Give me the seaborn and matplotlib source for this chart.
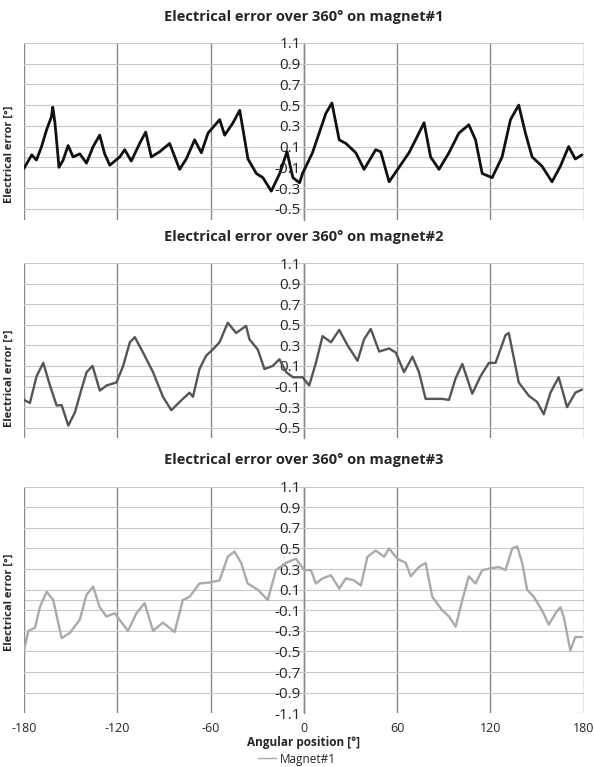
import numpy as np
import pandas as pd
import matplotlib
matplotlib.use('Agg')
import matplotlib.pyplot as plt
import seaborn as sns
from matplotlib.lines import Line2D

# --- datos (grados, error electrico) ---
ang_m1 = [-180, -175, -172, -168.7, -165.5, -162.3, -161.5, -160.1, -158.5, -157.5, -154.8, -151.6, -148.4,
          -144.1, -139.8, -135.5, -131.3, -128.1, -124.8, -118.4, -115.2, -111, -105.6, -101.7, -98.1,
          -92.7, -86.3, -79.9, -75.6, -70.2, -65.9, -61.6,
          -54.1, -50.9, -45.5, -41.2, -35.9, -30.5, -26.3, -20.9, -15.5, -10.8, -7, -2.7, -0.8, 5.6,
          9.9, 14.2, 18.1, 22.8, 27.1, 33.5, 38.8, 46.3, 49.5, 54.9, 61.3, 67.7, 73.1, 77.4, 81.6,
          87, 93.4, 99.8, 106.2, 110.5, 114.8, 121.2, 127.6, 133, 138.3, 142.6, 146.9, 153.3, 159.7,
          165.1, 170.4, 174.7, 179]
err_m1 = [-0.11, 0.02, -0.03, 0.10, 0.26, 0.39, 0.48, 0.33, 0.07, -0.10, -0.03, 0.11, 0.0,
          0.03, -0.06, 0.10, 0.21, 0.03, -0.08, 0.0, 0.07, -0.04, 0.13, 0.24, 0.0,
          0.05, 0.13, -0.12, -0.02, 0.165, 0.04, 0.23,
          0.36, 0.21, 0.33, 0.45, -0.02, -0.16, -0.20, -0.33, -0.16, 0.05, -0.20, -0.25, -0.16, 0.04,
          0.23, 0.42, 0.52, 0.165, 0.13, 0.04, -0.12, 0.07, 0.05, -0.24, -0.10, 0.04, 0.20, 0.33, 0.0,
          -0.12, 0.04, 0.23, 0.31, 0.165, -0.16, -0.20, 0.0, 0.36, 0.50, 0.23, 0.0, -0.09, -0.24,
          -0.09, 0.10, -0.02, 0.02]

ang_m2 = [-180, -176.2, -171.9, -167.6, -163.3, -159, -155.8, -151.5, -147.2, -142.9, -139.7, -135.9,
          -131.2, -126.9, -120.5, -116.2, -111.9, -108.7, -103.4, -97, -90.6, -85.2, -79.9, -73.5,
          -71.3, -67.1, -62.8, -58.5, -54.2, -48.9, -43.5, -37.1, -35, -29.6, -25.3, -20, -15.7, -11.3,
          -7, -0.8, 3.5, 7.8, 12.1, 17.5, 22.8, 28.2, 34.6, 38.8, 43.1, 48.5, 54.9, 59.2, 64.5, 69.9,
          74.1, 78.4, 84.8, 89.1, 93.4, 97.7, 102, 108.4, 113.7, 119.1, 123.4, 129.8, 131.9, 138.3,
          144.8, 150.1, 154.4, 158.7, 164, 169.4, 174.7, 179]
err_m2 = [-0.23, -0.26, 0.0, 0.13, -0.09, -0.285, -0.28, -0.48, -0.35, -0.12, 0.04, 0.10,
          -0.14, -0.09, -0.06, 0.10, 0.33, 0.38, 0.23, 0.04, -0.20, -0.33, -0.25, -0.16,
          -0.20, 0.07, 0.20, 0.26, 0.33, 0.52, 0.42, 0.49, 0.36, 0.26, 0.07, 0.10, 0.165, 0.04,
          -0.01, -0.01, -0.09, 0.13, 0.39, 0.33, 0.45, 0.30, 0.15, 0.36, 0.46, 0.24, 0.27, 0.23, 0.04, 0.19,
          0.04, -0.22, -0.22, -0.22, -0.23, -0.02, 0.12, -0.17, 0.0, 0.13, 0.13, 0.40, 0.42, -0.06,
          -0.19, -0.25, -0.37, -0.16, -0.01, -0.30, -0.16, -0.13]

ang_m3 = [-180, -177.2, -172.9, -169.7, -165.4, -161.2, -155.8, -150.5, -144.1, -139.8, -135.5, -131.3,
          -127, -121.6, -113.1, -107.7, -102.4, -97, -90.6, -83.1, -77.8, -73.5, -67.1, -60.7, -54.2,
          -48.9, -44.6, -40.3, -36.1, -29.6, -23.2, -17.9, -11.5, -5, 0.3, 4.6, 7.8, 12.1, 17.5, 22.8,
          27.1, 32.4, 36.7, 41, 46.3, 51.7, 54.9, 60.2, 65.6, 68.8, 74.1, 78.4, 82.7, 89.1, 93.4, 97.7,
          102, 106.2, 110.5, 114.8, 121.2, 125.5, 129.8, 134.1, 137.3, 140.5, 143.7, 148, 153.3, 157.6,
          161.9, 165.1, 167.2, 171.5, 174.7, 179]
err_m3 = [-0.49, -0.30, -0.27, -0.065, 0.08, 0.0, -0.37, -0.32, -0.19, 0.05, 0.13, -0.07,
          -0.16, -0.13, -0.30, -0.13, -0.03, -0.30, -0.22, -0.31, 0.0, 0.03, 0.16, 0.17, 0.19,
          0.42, 0.47, 0.36, 0.16, 0.10, 0.0, 0.29, 0.36, 0.40, 0.29, 0.29, 0.16, 0.21, 0.24, 0.11,
          0.21, 0.19, 0.14, 0.42, 0.48, 0.42, 0.50, 0.40, 0.36, 0.23, 0.32, 0.36, 0.03, -0.10, -0.16, -0.26,
          0.0, 0.23, 0.16, 0.29, 0.31, 0.32, 0.29, 0.50, 0.52, 0.36, 0.10, 0.03, -0.10, -0.24,
          -0.13, -0.07, -0.16, -0.49, -0.36, -0.36]

x_ticks = [-180, -120, -60, 0, 60, 120, 180]
y_ticks_short = [1.1, 0.9, 0.7, 0.5, 0.3, 0.1, -0.1, -0.3, -0.5]
y_ticks_long = [1.1, 0.9, 0.7, 0.5, 0.3, 0.1, -0.1, -0.3, -0.5, -0.7, -0.9, -1.1]

sns.set_theme(style='white')
plt.rcParams['font.family'] = ['Open Sans', 'DejaVu Sans']

fig = plt.figure(figsize=(5.94, 7.67), dpi=100)

paneles = [
    (ang_m1, err_m1, '#111111', 2.0, 'Electrical error over 360° on magnet#1', y_ticks_short, (-0.61, 1.1),
     [0.0404, 0.713, 0.942, 0.231], 0.37),
    (ang_m2, err_m2, '#555555', 1.7, 'Electrical error over 360° on magnet#2', y_ticks_short, (-0.6, 1.1),
     [0.0404, 0.429, 0.942, 0.228], 0.34),
    (ang_m3, err_m3, '#aaaaaa', 1.7, 'Electrical error over 360° on magnet#3', y_ticks_long, (-1.1, 1.1),
     [0.0404, 0.070, 0.942, 0.2955], 0.49),
]

grid_h = '#cdc6c2'
grid_v = '#8e8682'

axes = []
for ang, err, color, lw, titulo, yt, ylim, pos, ylab_y in paneles:
    ax = fig.add_axes(pos)
    df = pd.DataFrame({'ang': ang, 'err': err})
    sns.lineplot(data=df, x='ang', y='err', color=color, lw=lw, ax=ax, sort=False)
    ax.set_xlim(-180, 180)
    ax.set_ylim(*ylim)
    ax.set_yticks(yt)
    ax.set_yticklabels([f'{v:.1f}' for v in yt], fontsize=9, color='#222222')
    ax.set_xticks(x_ticks)
    for s in ['top', 'right', 'bottom']:
        ax.spines[s].set_visible(False)
    # eje vertical en x=0 con etiquetas
    ax.spines['left'].set_position(('data', 0))
    ax.spines['left'].set_color(grid_v)
    ax.spines['left'].set_linewidth(1)
    ax.spines['left'].set_zorder(0.5)
    ax.tick_params(axis='y', length=0, pad=2)
    ax.tick_params(axis='x', length=0, pad=6, labelsize=9)
    ax.grid(axis='y', color=grid_h, lw=0.8)
    ax.grid(axis='x', color=grid_v, lw=1)
    ax.axhline(0, color=grid_h, lw=0.8, zorder=0.5)
    ax.set_axisbelow(True)
    ax.set_title(titulo, fontsize=10.5, fontweight='bold', pad=16)
    ax.set_ylabel('Electrical error [°]', fontsize=8, fontweight='bold')
    ax.yaxis.set_label_coords(-0.016, ylab_y)
    ax.set_xlabel('')
    axes.append(ax)

for ax in axes[:2]:
    ax.set_xticklabels([])

axes[2].set_xticklabels([str(v) for v in x_ticks])
axes[2].set_xlabel('Angular position [°]', fontsize=8.5, fontweight='bold', labelpad=1)

fig.legend(handles=[Line2D([], [], color='#aaaaaa', lw=1)], labels=['Magnet#1'],
           loc='lower center', bbox_to_anchor=(0.5, -0.012), frameon=False, fontsize=8.5,
           handlelength=1.5, handletextpad=0.3)

fig.savefig('out.png', dpi=100, facecolor='white')
